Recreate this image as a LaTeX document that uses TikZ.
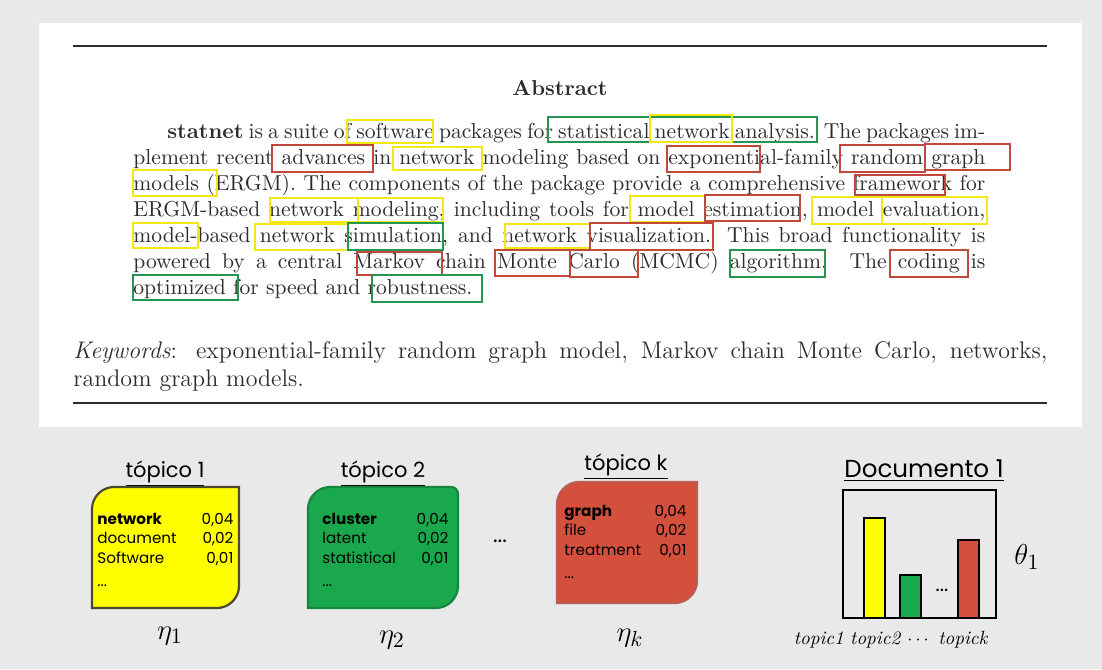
\documentclass[tikz,border=0pt]{standalone}
\usepackage{fontspec}
\usepackage{amsmath}
\newfontfamily\gothicfont{Poppins}
\definecolor{PageGray}{RGB}{233,233,233}
\definecolor{InkGray}{RGB}{45,45,45}
\definecolor{MarkYellow}{RGB}{244,232,20}
\definecolor{MarkGreen}{RGB}{36,150,84}
\definecolor{MarkRed}{RGB}{192,72,60}
\definecolor{TopicYellow}{RGB}{255,255,0}
\definecolor{TopicGreen}{RGB}{26,168,76}
\definecolor{TopicRed}{RGB}{210,80,60}
\newcommand{\abssize}{\fontsize{10.8}{13}\selectfont}

\begin{document}
\begin{tikzpicture}[x=0.5pt, y=-0.5pt,
    abstxt/.style={anchor=base west, inner sep=0pt, font=\abssize, text=InkGray},
    markY/.style={draw=MarkYellow, line width=1.3pt},
    markG/.style={draw=MarkGreen, line width=1.3pt},
    markR/.style={draw=MarkRed, line width=1.3pt},
    topicbox/.style={line width=1.1pt},
    topictitle/.style={anchor=base, inner sep=0pt, font=\gothicfont\fontsize{10.5}{12}\selectfont},
    wordlist/.style={anchor=base west, inner sep=0pt, font=\gothicfont\fontsize{7.6}{9.75}\selectfont},
    paramlbl/.style={anchor=base, inner sep=0pt, font=\fontsize{15}{17}\selectfont},
    bar/.style={draw=black, line width=1.2pt}
]
    \useasboundingbox (0,0) rectangle (1102,669);
    \fill[PageGray] (0,0) rectangle (1102,669);
    \fill[white] (39,23) rectangle (1082,427);

    % Abstract page
    \draw[InkGray, line width=1pt] (73,46) -- (1047,46);
    \node[abstxt, anchor=base, font=\abssize\bfseries] (abstitle) at (560,95) {Abstract};
    \node[abstxt] (line1) at (167,138) {\makebox[409pt][s]{\textbf{statnet} is a suite of software packages for statistical network analysis. The packages im-}};
    \node[abstxt] (line2) at (133,164) {\makebox[426pt][s]{plement recent advances in network modeling based on exponential-family random graph}};
    \node[abstxt] (line3) at (133,190) {\makebox[426pt][s]{models (ERGM). The components of the package provide a comprehensive framework for}};
    \node[abstxt] (line4) at (133,216) {\makebox[426pt][s]{ERGM-based network modeling, including tools for model estimation, model evaluation,}};
    \node[abstxt] (line5) at (133,242) {\makebox[426pt][s]{model-based network simulation, and network visualization. This broad functionality is}};
    \node[abstxt] (line6) at (133,268) {\makebox[426pt][s]{powered by a central Markov chain Monte Carlo (MCMC) algorithm.\ \ The coding is}};
    \node[abstxt] (line7) at (133,294) {optimized for speed and robustness.};
    \node[abstxt, font=\fontsize{12}{14}\selectfont] (keyw1) at (73,358) {\makebox[487pt][s]{\textit{Keywords}: exponential-family random graph model, Markov chain Monte Carlo, networks,}};
    \node[abstxt, font=\fontsize{12}{14}\selectfont] (keyw2) at (73,386) {random graph models.};
    \draw[InkGray, line width=1pt] (73,403) -- (1047,403);

    % Marked words
    \draw[markY] (347,120) rectangle (433,143);
    \draw[markG] (548,117) rectangle (817,142);
    \draw[markY] (650,115) rectangle (732,142);
    \draw[markR] (272,145) rectangle (373,172);
    \draw[markY] (393,147) rectangle (482,170);
    \draw[markR] (667,146) rectangle (760,172);
    \draw[markR] (840,145) rectangle (925,172);
    \draw[markR] (925,144) rectangle (1010,170);
    \draw[markY] (133,170) rectangle (217,196);
    \draw[markR] (855,175) rectangle (945,195);
    \draw[markY] (270,198) rectangle (358,222);
    \draw[markY] (358,198) rectangle (443,222);
    \draw[markY] (630,196) rectangle (705,222);
    \draw[markR] (705,195) rectangle (800,221);
    \draw[markY] (812,197) rectangle (882,224);
    \draw[markY] (882,197) rectangle (987,224);
    \draw[markY] (133,223) rectangle (198,248);
    \draw[markY] (255,224) rectangle (348,250);
    \draw[markG] (348,223) rectangle (443,250);
    \draw[markY] (505,224) rectangle (590,248);
    \draw[markR] (590,223) rectangle (713,250);
    \draw[markR] (357,252) rectangle (442,275);
    \draw[markR] (495,250) rectangle (570,276);
    \draw[markR] (570,250) rectangle (638,277);
    \draw[markG] (730,250) rectangle (825,277);
    \draw[markR] (890,250) rectangle (968,277);
    \draw[markG] (133,275) rectangle (238,300);
    \draw[markG] (372,275) rectangle (482,302);

    % Topic 1
    \node[topictitle] (title1) at (165,477) {\underline{tópico 1}};
    \draw[topicbox, draw=black!60!olive, fill=TopicYellow] (92,608) -- (92,509) .. controls (92,497) and (102,487) .. (114,487) -- (239,487) -- (239,586) .. controls (239,598) and (229,608) .. (217,608) -- cycle;
    \node[wordlist] (list1) at (97,524) {\begin{tabular*}{68pt}[t]{@{}l@{\extracolsep{\fill}}r@{}}\textbf{network} & 0,04\\ document & 0,02\\ Software & 0,01\\[2pt] ... & \end{tabular*}};
    \node[paramlbl] (eta1) at (170,639) {$\eta_1$};

    % Topic 2
    \node[topictitle] (title2) at (383,477) {\underline{tópico 2}};
    \draw[topicbox, draw=TopicGreen!80!black, fill=TopicGreen] (308,608) -- (308,509) .. controls (308,497) and (318,487) .. (330,487) -- (451,487) .. controls (455,487) and (458,490) .. (458,494) -- (458,586) .. controls (458,598) and (448,608) .. (436,608) -- cycle;
    \node[wordlist] (list2) at (322,524) {\begin{tabular*}{63pt}[t]{@{}l@{\extracolsep{\fill}}r@{}}\textbf{cluster} & 0,04\\ latent & 0,02\\ statistical & 0,01\\[2pt] ... & \end{tabular*}};
    \node[paramlbl] (eta2) at (392,643) {$\eta_2$};

    \node[font=\gothicfont\fontsize{11}{12}\selectfont] (midots) at (500,541) {...};

    % Topic k
    \node[topictitle] (titlek) at (626,470) {\underline{tópico k}};
    \draw[topicbox, draw=TopicRed!70!gray, fill=TopicRed] (557,603) -- (557,504) .. controls (557,492) and (567,482) .. (579,482) -- (697,482) -- (697,581) .. controls (697,593) and (687,603) .. (675,603) -- cycle;
    \node[wordlist] (listk) at (564,516) {\begin{tabular*}{61pt}[t]{@{}l@{\extracolsep{\fill}}r@{}}\textbf{graph} & 0,04\\ file & 0,02\\ treatment & 0,01\\[2pt] ... & \end{tabular*}};
    \node[paramlbl] (etak) at (630,641) {$\eta_k$};

    % Document 1
    \node[topictitle, font=\gothicfont\fontsize{12.3}{14}\selectfont] (doctitle) at (924,477) {\underline{Documento 1}};
    \draw[bar, fill=TopicYellow] (864,618) rectangle (885,518);
    \draw[bar, fill=TopicGreen] (900,618) rectangle (921,575);
    \draw[bar, fill=TopicRed] (958,618) rectangle (979,540);
    \draw[line width=1.4pt] (843,490) rectangle (996,618);
    \node[font=\gothicfont\fontsize{10}{11}\selectfont] (bardots) at (942,590) {...};
    \node[paramlbl, anchor=center] (theta1) at (1027,557) {$\theta_1$};
    \node[anchor=base, inner sep=0pt, font=\fontsize{9.5}{11}\selectfont] (barlbls) at (891,644) {\textit{topic1} \textit{topic2} $\cdots$ \textit{topick}};
\end{tikzpicture}
\end{document}
